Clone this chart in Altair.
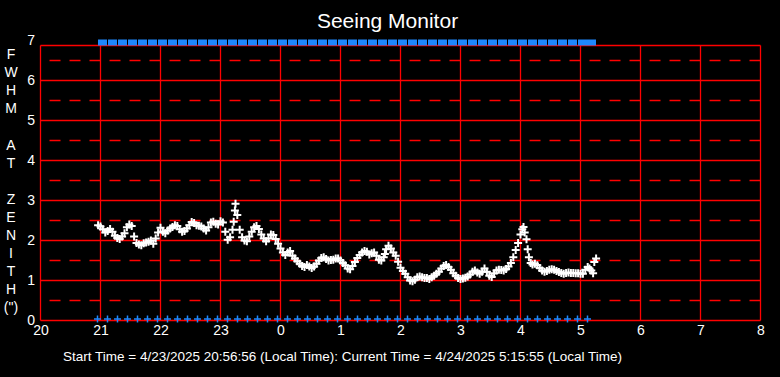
import altair as alt
import pandas as pd

# FWHM seeing samples (decimal hour since midnight of start day; >24 = next day)
hours = [
    20.96, 21.00, 21.04, 21.08, 21.12, 21.16, 21.20, 21.24, 21.28, 21.32, 21.36, 21.40, 21.44, 21.48, 21.52,
    21.56, 21.60, 21.64, 21.68, 21.72, 21.76, 21.80, 21.84, 21.88, 21.92, 21.96, 22.00, 22.04, 22.08, 22.12,
    22.16, 22.20, 22.24, 22.28, 22.32, 22.36, 22.40, 22.44, 22.48, 22.52, 22.56, 22.60, 22.64, 22.68, 22.72,
    22.76, 22.80, 22.84, 22.88, 22.92, 22.96, 23.00, 23.04, 23.08, 23.12, 23.16, 23.20, 23.22, 23.24, 23.25,
    23.28, 23.32, 23.36, 23.40, 23.44, 23.48, 23.52, 23.56, 23.60, 23.64, 23.68, 23.72, 23.76, 23.80, 23.84,
    23.88, 23.92, 23.96, 24.00, 24.04, 24.08, 24.12, 24.16, 24.20, 24.24, 24.28, 24.32, 24.36, 24.40, 24.44,
    24.48, 24.52, 24.56, 24.60, 24.64, 24.68, 24.72, 24.76, 24.80, 24.84, 24.88, 24.92, 24.96, 25.00, 25.04,
    25.08, 25.12, 25.16, 25.20, 25.24, 25.28, 25.32, 25.36, 25.40, 25.44, 25.48, 25.52, 25.56, 25.60, 25.64,
    25.68, 25.72, 25.74, 25.76, 25.80, 25.84, 25.88, 25.92, 25.96, 26.00, 26.04, 26.08, 26.12, 26.16, 26.20,
    26.24, 26.28, 26.32, 26.36, 26.40, 26.44, 26.48, 26.52, 26.56, 26.60, 26.64, 26.68, 26.72, 26.76, 26.80,
    26.84, 26.88, 26.92, 26.96, 27.00, 27.04, 27.08, 27.12, 27.16, 27.20, 27.24, 27.28, 27.32, 27.36, 27.40,
    27.44, 27.48, 27.52, 27.56, 27.60, 27.64, 27.68, 27.72, 27.76, 27.80, 27.84, 27.88, 27.92, 27.96, 28.00,
    28.03, 28.05, 28.07, 28.10, 28.12, 28.14, 28.17, 28.20, 28.24, 28.28, 28.32, 28.36, 28.40, 28.44, 28.48,
    28.52, 28.56, 28.60, 28.64, 28.68, 28.72, 28.76, 28.80, 28.84, 28.88, 28.92, 28.96, 29.00, 29.04, 29.08,
    29.12, 29.15, 29.18, 29.21, 29.23, 29.26,
]
fwhm = [
    2.38, 2.35, 2.28, 2.20, 2.24, 2.29, 2.22, 2.12, 2.06, 2.04, 2.10, 2.18, 2.33, 2.40, 2.36,
    2.10, 1.94, 1.90, 1.88, 1.93, 1.95, 1.97, 2.00, 1.92, 2.05, 2.20, 2.32, 2.22, 2.18, 2.25,
    2.30, 2.34, 2.38, 2.36, 2.28, 2.22, 2.24, 2.30, 2.38, 2.46, 2.44, 2.38, 2.37, 2.35, 2.30,
    2.25, 2.33, 2.45, 2.47, 2.42, 2.40, 2.48, 2.45, 2.22, 2.02, 2.08, 2.27, 2.47, 2.75, 2.92,
    2.64, 2.27, 2.08, 2.00, 1.98, 2.10, 2.22, 2.33, 2.36, 2.29, 2.15, 2.05, 1.98, 2.05, 2.15,
    2.14, 2.04, 1.92, 1.80, 1.70, 1.64, 1.70, 1.74, 1.62, 1.55, 1.48, 1.42, 1.36, 1.34, 1.39,
    1.35, 1.31, 1.35, 1.42, 1.50, 1.56, 1.58, 1.54, 1.50, 1.51, 1.52, 1.55, 1.55, 1.50, 1.44,
    1.38, 1.30, 1.28, 1.36, 1.46, 1.56, 1.64, 1.70, 1.74, 1.72, 1.65, 1.68, 1.70, 1.62, 1.52,
    1.50, 1.58, 1.66, 1.78, 1.87, 1.80, 1.70, 1.62, 1.47, 1.32, 1.24, 1.17, 1.08, 1.00, 0.98,
    1.02, 1.08, 1.10, 1.08, 1.06, 1.06, 1.04, 1.08, 1.12, 1.17, 1.22, 1.30, 1.36, 1.39, 1.34,
    1.27, 1.18, 1.12, 1.06, 1.04, 1.05, 1.07, 1.10, 1.15, 1.22, 1.25, 1.20, 1.17, 1.22, 1.30,
    1.22, 1.12, 1.09, 1.18, 1.25, 1.27, 1.26, 1.25, 1.29, 1.35, 1.44, 1.58, 1.76, 1.94, 2.15,
    2.28, 2.34, 2.20, 2.03, 1.78, 1.58, 1.44, 1.40, 1.42, 1.38, 1.31, 1.25, 1.22, 1.24, 1.27,
    1.28, 1.27, 1.24, 1.21, 1.19, 1.17, 1.19, 1.20, 1.19, 1.19, 1.18, 1.18, 1.17, 1.17, 1.27,
    1.34, 1.30, 1.25, 1.18, 1.46, 1.55,
]

# status markers (minutes after 20:00)
bottom_marks_min = [57, 67, 77, 87, 97, 107, 117, 127, 137, 147, 157, 167, 177, 187, 197, 207, 217,
                    227, 237, 247, 257, 267, 277, 287, 297, 307, 317, 327, 337, 347, 357, 367, 377,
                    387, 397, 407, 417, 427, 437, 447, 457, 467, 477, 487, 497, 507, 517, 527, 537, 547]
top_marks_min = [62, 72, 82, 92, 102, 112, 122, 132, 142, 152, 162, 172, 182, 192, 202, 212, 222,
                 232, 242, 252, 262, 272, 282, 292, 302, 312, 322, 332, 342, 352, 362, 372, 382,
                 392, 402, 412, 422, 432, 442, 452, 462, 472, 482, 492, 502, 512, 522, 532, 542, 551]

x_ticks = [20, 21, 22, 23, 24, 25, 26, 27, 28, 29, 30, 31, 32]
y_ticks = [0, 1, 2, 3, 4, 5, 6, 7]
solid_levels = [0, 1, 2, 3, 4, 5, 6, 6.875]
dashed_levels = [0.5, 1.5, 2.5, 3.5, 4.5, 5.5, 6.5]
frame_top = 6.875

footer = "Start Time = 4/23/2025 20:56:56 (Local Time): Current Time = 4/24/2025 5:15:55 (Local Time)"
ZW = "\u200b"
y_title = ["F", "W", "H", "M", ZW, "A", "T", ZW, "Z", "E", "N", "I", "T", "H", "(\")"]

RED = "#ff0000"
BLUE = "#1e88ff"
FONT = "Liberation Sans"

x_scale = alt.Scale(domain=[20, 32], nice=False, zero=False)
y_scale = alt.Scale(domain=[0, 7], nice=False, zero=True)

x_axis = alt.Axis(
    values=x_ticks, labelExpr="'' + (datum.value % 24)", domain=False, ticks=False, grid=False,
    labelPadding=3, labelFontSize=14, labelColor="white", labelFont=FONT, labelFlush=False,
    labelOverlap=False, title=footer, titleFont=FONT,
    titleFontSize=13.5, titleFontWeight="normal", titleColor="white", titleX=22, titleAlign="left",
    titleY=40, titleBaseline="alphabetic",
)
y_axis = alt.Axis(
    values=y_ticks, domain=False, ticks=False, grid=False, labelPadding=6, labelFontSize=14,
    labelColor="white", labelFont=FONT, labelBaseline="middle",
    title=y_title, titleAngle=0, titleAlign="center", titleX=-30, titleY=18,
    titleBaseline="alphabetic", titleLineHeight=18.1, titleFontSize=14, titleFontWeight="normal",
    titleColor="white", titleFont=FONT,
)


def X(field="x"):
    return alt.X(f"{field}:Q", scale=x_scale, axis=x_axis)


def Y(field="y"):
    return alt.Y(f"{field}:Q", scale=y_scale, axis=y_axis)


data = pd.DataFrame({"x": hours, "y": fwhm})
bottom = pd.DataFrame({"x": [20 + m / 60 for m in bottom_marks_min], "y": [0.04] * len(bottom_marks_min)})
top = pd.DataFrame({"x": [20 + m / 60 for m in top_marks_min], "y": [6.95] * len(top_marks_min)})
hsolid = pd.DataFrame({"y": solid_levels})
hdash = pd.DataFrame({"y": dashed_levels})
vlines = pd.DataFrame({"x": x_ticks, "y": [0] * len(x_ticks), "y2": [frame_top] * len(x_ticks)})

LW = 1.3
solid = alt.Chart(hsolid).mark_rule(color=RED, strokeWidth=LW).encode(y=Y())
dashed = alt.Chart(hdash).mark_rule(color=RED, strokeWidth=LW, strokeDash=[11, 9]).encode(y=Y())
verts = alt.Chart(vlines).mark_rule(color=RED, strokeWidth=LW).encode(x=X(), y=Y(), y2="y2:Q")

PLUS = "M-1,0L1,0M0,-1L0,1"
points = alt.Chart(data).mark_point(shape=PLUS, size=64, strokeWidth=2, filled=False,
                                    color="white", opacity=1).encode(x=X(), y=Y())
bmarks = alt.Chart(bottom).mark_point(shape=PLUS, size=49, strokeWidth=1.5, filled=False,
                                      color=BLUE, opacity=1).encode(x=X(), y=Y())
tmarks = alt.Chart(top).mark_point(shape="M-0.9,-0.6L0.9,-0.6L0.9,0.6L-0.9,0.6Z", size=100,
                                   filled=True, color=BLUE, opacity=1, strokeWidth=0).encode(x=X(), y=Y())

chart = alt.layer(solid, dashed, verts, points, bmarks, tmarks).properties(
    width=720, height=280, background="black",
    padding={"left": 40.5, "top": 40.5, "right": 19.5, "bottom": 56.5},
    autosize=alt.AutoSizeParams(type="none"),
    title=alt.TitleParams("Seeing Monitor", color="white", fontSize=21, font=FONT,
                          fontWeight="normal", anchor="middle", dx=-13, offset=2),
).configure_view(stroke=None)

chart.save("out.html", embed_options={"renderer": "svg", "actions": False})
